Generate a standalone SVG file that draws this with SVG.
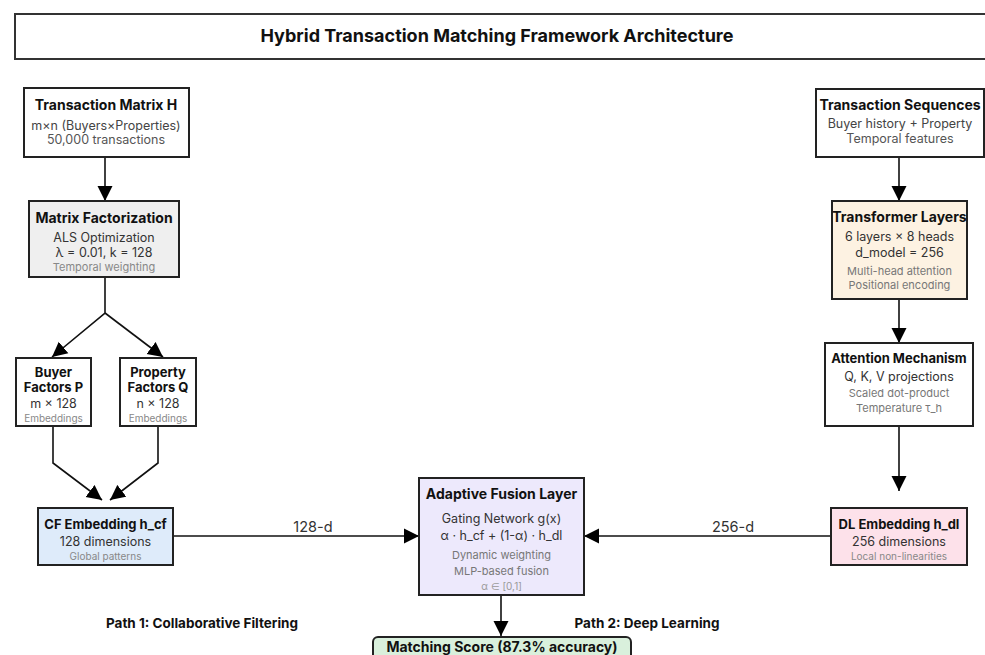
<svg xmlns="http://www.w3.org/2000/svg" width="985" height="655" viewBox="0 0 985 655">
<style>
text{font-family:Inter,"Noto Sans","Liberation Sans",sans-serif;text-anchor:middle}
.box{stroke:#222;stroke-width:2}
.t{font-size:14px;font-weight:700;fill:#111}
.s{font-size:12.5px;fill:#333}
.g{font-size:11px;fill:#777}
.l{font-size:10px;fill:#888}
.c{stroke:#111;stroke-width:1.6;fill:none}
.lab{font-size:14.5px;fill:#333}
.path{font-size:13.5px;font-weight:700;fill:#111}
</style>
<defs>
<marker id="ah" markerUnits="userSpaceOnUse" markerWidth="16" markerHeight="16" viewBox="0 0 16 16" refX="15" refY="8" orient="auto">
<path d="M0,0.5 L15,8 L0,15.5 Z" fill="#000"/>
</marker>
</defs>
<rect width="985" height="655" fill="#fff"/>
<g id="title">
<rect x="15" y="14" width="980" height="45" fill="#fff" stroke="#333" stroke-width="2"/>
<text x="497" y="42" style="font-size:18px;font-weight:700;fill:#111">Hybrid Transaction Matching Framework Architecture</text>
</g>
<g id="connectors">
<path class="c" d="M105,157 V201" marker-end="url(#ah)"/>
<path class="c" d="M105,277 V313 L52,357" marker-end="url(#ah)"/>
<path class="c" d="M105,313 L163,357" marker-end="url(#ah)"/>
<path class="c" d="M53,426 V463 L102,500" marker-end="url(#ah)"/>
<path class="c" d="M158,426 V463 L110,500" marker-end="url(#ah)"/>
<path class="c" d="M173,536 H419" marker-end="url(#ah)"/>
<path class="c" d="M831,536 H584" marker-end="url(#ah)"/>
<path class="c" d="M899,157 V201" marker-end="url(#ah)"/>
<path class="c" d="M899,299 V343" marker-end="url(#ah)"/>
<path class="c" d="M899,426 V491" marker-end="url(#ah)"/>
<path class="c" d="M501,595 V636" marker-end="url(#ah)"/>
<text class="lab" x="313" y="532">128-d</text>
<text class="lab" x="733" y="532">256-d</text>
</g>
<g id="matrixH">
<rect class="box" x="24" y="88" width="165" height="69" fill="#fff"/>
<text class="t" x="106" y="110">Transaction Matrix H</text>
<text class="s" x="106" y="130" style="fill:#444">m×n (Buyers×Properties)</text>
<text class="s" x="106" y="144" style="fill:#555">50,000 transactions</text>
</g>
<g id="mf">
<rect class="box" x="29" y="201" width="150" height="76" fill="#efefef"/>
<text class="t" x="104" y="223">Matrix Factorization</text>
<text class="s" x="104" y="242">ALS Optimization</text>
<text class="s" x="104" y="257">λ = 0.01, k = 128</text>
<text class="g" x="104" y="271" style="fill:#888">Temporal weighting</text>
</g>
<g id="buyerP">
<rect class="box" x="16" y="358" width="75" height="68" fill="#fff"/>
<text class="t" x="53.5" y="377" style="font-size:13px">Buyer</text>
<text class="t" x="53.5" y="392" style="font-size:13px">Factors P</text>
<text class="s" x="53.5" y="408">m × 128</text>
<text class="l" x="53.5" y="422">Embeddings</text>
</g>
<g id="propQ">
<rect class="box" x="120" y="358" width="76" height="68" fill="#fff"/>
<text class="t" x="158" y="377" style="font-size:13px">Property</text>
<text class="t" x="158" y="392" style="font-size:13px">Factors Q</text>
<text class="s" x="158" y="408">n × 128</text>
<text class="l" x="158" y="422">Embeddings</text>
</g>
<g id="cf">
<rect class="box" x="38" y="508" width="135" height="57" fill="#deebfa"/>
<text class="t" x="105.5" y="529" style="font-size:13px">CF Embedding h_cf</text>
<text class="s" x="105.5" y="546">128 dimensions</text>
<text class="l" x="105.5" y="560">Global patterns</text>
</g>
<g id="seq">
<rect class="box" x="816" y="89" width="168" height="68" fill="#fff"/>
<text class="t" x="900" y="110">Transaction Sequences</text>
<text class="s" x="900" y="128" style="fill:#444">Buyer history + Property</text>
<text class="s" x="900" y="143" style="fill:#555">Temporal features</text>
</g>
<g id="transformer">
<rect class="box" x="832" y="201" width="135" height="98" fill="#fdf2e2"/>
<text class="t" x="899.5" y="222">Transformer Layers</text>
<text class="s" x="899.5" y="241">6 layers × 8 heads</text>
<text class="s" x="899.5" y="257">d_model = 256</text>
<text class="g" x="899.5" y="275">Multi-head attention</text>
<text class="g" x="899.5" y="289">Positional encoding</text>
</g>
<g id="attention">
<rect class="box" x="825" y="343" width="148" height="83" fill="#fff"/>
<text class="t" x="899" y="363" style="font-size:13px">Attention Mechanism</text>
<text class="s" x="899" y="381">Q, K, V projections</text>
<text class="g" x="899" y="397">Scaled dot-product</text>
<text class="g" x="899" y="412">Temperature τ_h</text>
</g>
<g id="dl">
<rect class="box" x="831" y="508" width="136" height="57" fill="#fde1ea"/>
<text class="t" x="899" y="529" style="font-size:13px">DL Embedding h_dl</text>
<text class="s" x="899" y="546">256 dimensions</text>
<text class="l" x="899" y="560">Local non-linearities</text>
</g>
<g id="fusion">
<rect class="box" x="419" y="478" width="165" height="117" fill="#ede9fc"/>
<text class="t" x="501.5" y="499">Adaptive Fusion Layer</text>
<text class="s" x="501.5" y="523">Gating Network g(x)</text>
<text class="s" x="501.5" y="540">α · h_cf + (1-α) · h_dl</text>
<text class="g" x="501.5" y="559">Dynamic weighting</text>
<text class="g" x="501.5" y="575">MLP-based fusion</text>
<text class="l" x="501.5" y="590" style="fill:#999">α ∈ [0,1]</text>
</g>
<g id="score">
<rect x="373" y="637" width="258" height="30" rx="5" fill="#d9f0dc" stroke="#222" stroke-width="2"/>
<text class="t" x="502" y="652">Matching Score (87.3% accuracy)</text>
</g>
<g id="labels">
<text class="path" x="202" y="628">Path 1: Collaborative Filtering</text>
<text class="path" x="647" y="628">Path 2: Deep Learning</text>
</g>
</svg>
